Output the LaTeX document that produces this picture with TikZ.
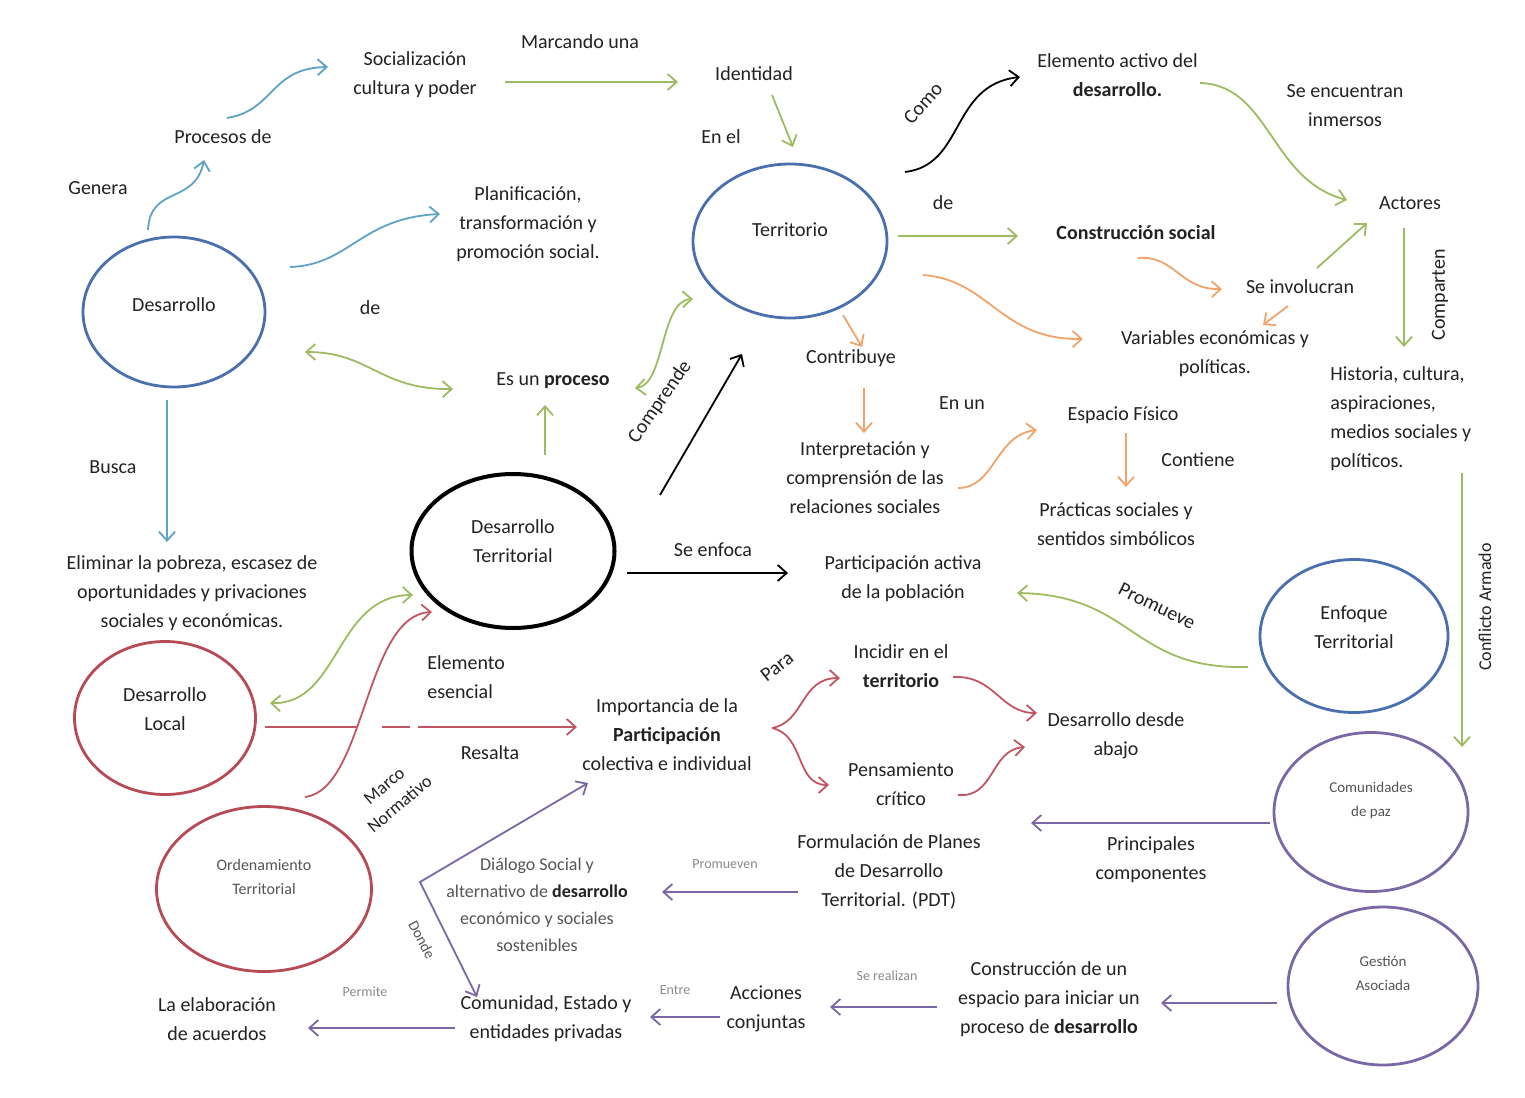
\documentclass[tikz,border=0pt]{standalone}
\usepackage{fontspec}
\setmainfont{Carlito}
\usetikzlibrary{arrows.meta,shapes.geometric}
\definecolor{txt}{HTML}{222222}
\definecolor{greytxt}{HTML}{555555}
\definecolor{faint}{HTML}{8A8A8A}
\definecolor{blueE}{HTML}{4A6FAE}
\definecolor{tealA}{HTML}{5FA3C4}
\definecolor{greenA}{HTML}{9DBB61}
\definecolor{orangeA}{HTML}{F0A46C}
\definecolor{redA}{HTML}{C25563}
\definecolor{redE}{HTML}{B84A55}
\definecolor{purpleA}{HTML}{7A68A6}
\begin{document}
\begin{tikzpicture}[x=0.5pt,y=-0.5pt,
  every node/.style={inner sep=1pt, text=txt},
  t/.style={font=\fontsize{10}{14.5}\selectfont, align=center},
  ell/.style={ellipse, inner sep=0pt, line width=1.4pt},
  lbl/.style={font=\fontsize{10}{14.5}\selectfont, align=center},
  arr/.style={line width=0.9pt, -{Straight Barb[length=4.5pt,width=8pt]}},
  darr/.style={line width=0.9pt, {Straight Barb[length=4.5pt,width=8pt]}-{Straight Barb[length=4.5pt,width=8pt]}},
  tiny/.style={font=\fontsize{7}{8}\selectfont, text=faint},
]
\path[use as bounding box, fill=white] (0,0) rectangle (1525,1097);

% ---------- ellipses ----------
\node[ell, draw=blueE, minimum width=91pt, minimum height=75pt,
  label={[lbl,yshift=3.5pt]center:Desarrollo}] (des) at (174,312) {};
\node[ell, draw=blueE, minimum width=97pt, minimum height=77pt,
  label={[lbl,yshift=5.5pt]center:Territorio}] (ter) at (790,241) {};
\node[ell, draw=black, line width=2pt, minimum width=101.5pt, minimum height=77pt,
  label={[lbl,yshift=5pt]center:Desarrollo\\Territorial}] (dt) at (513,551) {};
\node[ell, draw=redE, minimum width=90.5pt, minimum height=76.5pt,
  label={[lbl,yshift=4.5pt]center:Desarrollo\\Local}] (dl) at (165,718) {};
\node[ell, draw=redE, minimum width=107.5pt, minimum height=82.5pt,
  label={[align=center,font=\fontsize{8}{12}\selectfont,text=greytxt,yshift=6pt]center:Ordenamiento\\Territorial}] (ot) at (264,889) {};
\node[ell, draw=blueE, minimum width=94pt, minimum height=76.5pt,
  label={[lbl,yshift=4.5pt]center:Enfoque\\Territorial}] (et) at (1354,636) {};
\node[ell, draw=purpleA, minimum width=97pt, minimum height=79.5pt,
  label={[align=center,font=\fontsize{7.5}{12}\selectfont,text=greytxt,yshift=6pt]center:Comunidades\\de paz}] (cp) at (1371,812) {};
\node[ell, draw=purpleA, minimum width=95pt, minimum height=79pt,
  label={[align=center,font=\fontsize{7.5}{12}\selectfont,text=greytxt,yshift=6.5pt]center:Gestión\\Asociada}] (ga) at (1383,986) {};

% ---------- text nodes ----------
\node[t] (soc) at (415,74.5) {Socialización\\cultura y poder};
\node[t] (marc) at (580,42) {Marcando una};
\node[t] (ide) at (754,74) {Identidad};
\node[t] (proc) at (223,137) {Procesos de};
\node[t] (gen) at (98,188) {Genera};
\node[t] (plan) at (528,224) {Planificación,\\transformación y\\promoción social.};
\node[t] (enel) at (721,137) {En el};
\node[t, rotate=48] (como) at (923,103) {Como};
\node[t] (elem) at (1117.5,75) {Elemento activo del\\{\bfseries desarrollo.}};
\node[t] (seenc) at (1345,106) {Se encuentran\\inmersos};
\node[t] (deA) at (943,203) {de};
\node[t, font=\bfseries\fontsize{10}{14.5}\selectfont] (cons) at (1136,233) {Construcción social};
\node[t] (act) at (1410,203) {Actores};
\node[t, rotate=90] (comp) at (1440,295) {Comparten};
\node[t] (inv) at (1300,287) {Se involucran};
\node[t] (var) at (1215,354) {Variables económicas y\\políticas.};
\node[t, align=left, anchor=west] (hist) at (1328,419) {Historia, cultura,\\aspiraciones,\\medios sociales y\\políticos.};
\node[t] (deB) at (370,308) {de};
\node[t] (proceso) at (553,381) {Es un {\bfseries proceso}};
\node[t, rotate=55] (compr) at (660,402) {Comprende};
\node[t] (contr) at (851,358) {Contribuye};
\node[t] (enun) at (962,403) {En un};
\node[t] (interp) at (865,478) {Interpretación y\\comprensión de las\\relaciones sociales};
\node[t] (esp) at (1123,415) {Espacio Físico};
\node[t] (cont) at (1198,460) {Contiene};
\node[t] (prac) at (1116,524) {Prácticas sociales y\\sentidos simbólicos};
\node[t] (busca) at (113,467) {Busca};
\node[t] (elim) at (192,593) {Eliminar la pobreza, escasez de\\oportunidades y privaciones\\sociales y económicas.};
\node[t] (seenf) at (713,550) {Se enfoca};
\node[t] (part) at (903,579) {Participación activa\\de la población};
\node[t, rotate=-26] (prom) at (1157,606) {Promueve};
\node[t, rotate=90, font=\fontsize{9}{11}\selectfont] (confl) at (1485,607) {Conflicto Armado};
\node[t, align=left, anchor=west] (elemesc) at (425,677) {Elemento\\esencial};
\node[t] (resalta) at (490,753) {Resalta};
\node[t, rotate=38] (para) at (777,667) {Para};
\node[t] (inc) at (901,666) {Incidir en el\\{\bfseries territorio}};
\node[t] (imp) at (667,735) {Importancia de la\\{\bfseries Participación}\\colectiva e individual};
\node[t] (abajo) at (1116,736) {Desarrollo desde\\abajo};
\node[t] (pens) at (901,784) {Pensamiento\\crítico};
\node[t, rotate=40, font=\fontsize{9}{12}\selectfont] (marco) at (392,795) {Marco\\Normativo};
\node[t] (form) at (889,872) {Formulación de Planes\\de Desarrollo\\Territorial. (PDT)};
\node[t] (princ) at (1151,860) {Principales\\componentes};
\node[t, font=\fontsize{9}{13.5}\selectfont, text=greytxt] (dial) at (537,905) {Diálogo Social y\\alternativo de {\color{txt}\bfseries desarrollo}\\económico y sociales\\sostenibles};
\node[tiny] (promn) at (725,864) {Promueven};
\node[tiny, rotate=-62, font=\fontsize{7.5}{9}\selectfont, text=greytxt] (donde) at (422,940) {Donde};
\node[t] (cons2) at (1049,999) {Construcción de un\\espacio para iniciar un\\proceso de {\bfseries desarrollo}};
\node[tiny] (serea) at (887,976) {Se realizan};
\node[t] (acc) at (766,1009) {Acciones\\conjuntas};
\node[tiny] (entre) at (675,990) {Entre};
\node[t] (com) at (546,1019) {Comunidad, Estado y\\entidades privadas};
\node[tiny] (perm) at (365,992) {Permite};
\node[t] (acu) at (217,1019) {La elaboración\\de acuerdos};

\coordinate (vtx) at (420,882);

% ---------- connectors ----------
% teal (from Desarrollo)
\draw[arr, tealA] ([shift={(-26,-82)}]des.center) .. controls +(2,-45) and +(-9,45) .. ([shift={(-19,23)}]proc.center);
\draw[arr, tealA] ([shift={(4,-19)}]proc.center) .. controls +(48,-8) and +(-58,1) .. ([shift={(-87,-7.5)}]soc.center);
\draw[arr, tealA] ([shift={(116,-45)}]des.center) .. controls +(60,-2) and +(-80,4) .. ([shift={(-88,-10)}]plan.center);
\draw[arr, tealA] ([shift={(-7,88)}]des.center) -- ([shift={(-25,-51)}]elim.center);

% green
\draw[arr, greenA] ([shift={(90,7.5)}]soc.center) -- ([shift={(-76,8)}]ide.center);
\draw[arr, greenA] ([shift={(18,21)}]ide.center) -- ([shift={(3,-94)}]ter.center);
\draw[arr, greenA] ([shift={(108,-5)}]ter.center) -- ([shift={(-118,3)}]cons.center);
\draw[arr, greenA] ([shift={(82.5,8)}]elem.center) .. controls +(70,2) and +(-77,-20) .. ([shift={(-63,-3)}]act.center);
\draw[arr, greenA] ([shift={(17,-19)}]inv.center) -- ([shift={(-43,20)}]act.center);
\draw[arr, greenA] ([shift={(-6,25)}]act.center) -- ([shift={(76,-72)}]hist.west);
\draw[arr, greenA] ([shift={(134,54)}]hist.west) -- ([shift={(91,-65)}]cp.center);
\draw[darr, greenA] ([shift={(131,40)}]des.center) .. controls +(65,0) and +(-73,1) .. ([shift={(-100,8)}]proceso.center);
\draw[darr, greenA] ([shift={(82,7)}]proceso.center) .. controls +(30,-3) and +(-33,1) .. ([shift={(-97,58)}]ter.center);
\draw[arr, greenA] ([shift={(32,-96)}]dt.center) -- ([shift={(-8,24)}]proceso.center);
\draw[arr, greenA] ([shift={(-106,31)}]et.center) .. controls +(-118,3) and +(118,2) .. ([shift={(114,14)}]part.center);
\draw[darr, greenA] ([shift={(105,-15)}]dl.center) .. controls +(70,2) and +(-78,0) .. ([shift={(-100,44)}]dt.center);

% black
\draw[arr, black] ([shift={(115,-69)}]ter.center) .. controls +(60,-7) and +(-70,8) .. ([shift={(-97.5,2)}]elem.center);
\draw[arr, black] ([shift={(147,-56)}]dt.center) -- ([shift={(-48,113)}]ter.center);
\draw[arr, black] ([shift={(114,22)}]dt.center) -- ([shift={(-115,-6)}]part.center);

% orange
\draw[arr, orangeA] ([shift={(2,25)}]cons.center) .. controls +(37,-3) and +(-42,1) .. ([shift={(-78,2)}]inv.center);
\draw[arr, orangeA] ([shift={(133,34)}]ter.center) .. controls +(67,5) and +(-83,1) .. ([shift={(-132,-15)}]var.center);
\draw[arr, orangeA] ([shift={(-12,19)}]inv.center) -- ([shift={(48,-29)}]var.center);
\draw[arr, orangeA] ([shift={(53,74)}]ter.center) -- ([shift={(11,-11)}]contr.center);
\draw[arr, orangeA] ([shift={(13,30)}]contr.center) -- ([shift={(-1,-45)}]interp.center);
\draw[arr, orangeA] ([shift={(93,10)}]interp.center) .. controls +(37,0) and +(-42,5) .. ([shift={(-86,15)}]esp.center);
\draw[arr, orangeA] ([shift={(3,18)}]esp.center) -- ([shift={(10,-37)}]prac.center);

% red
\draw[arr, redA] ([shift={(41,-92)}]ot.center) .. controls +(60,-7) and +(-67,3) .. ([shift={(-81,61)}]dt.center);
\draw[arr, redA, dash pattern=on 46.5pt off 12pt on 14pt off 4pt on 300pt] ([shift={(100,9)}]dl.center) -- ([shift={(-90,-8)}]imp.center);
\draw[arr, redA] ([shift={(105,-7)}]imp.center) .. controls +(33,-6) and +(-40,0) .. ([shift={(-61,12)}]inc.center);
\draw[arr, redA] ([shift={(105,-7)}]imp.center) .. controls +(33,7) and +(-34,0) .. ([shift={(-72,1)}]pens.center);
\draw[arr, redA] ([shift={(52,11)}]inc.center) .. controls +(42,-2) and +(-37,0) .. ([shift={(-79,-23)}]abajo.center);
\draw[arr, redA] ([shift={(57,11)}]pens.center) .. controls +(37,3) and +(-35,3) .. ([shift={(-91,11)}]abajo.center);

% purple
\draw[arr, purpleA] ([shift={(-101,11)}]cp.center) -- ([shift={(142,-49)}]form.center);
\draw[arr, purpleA] ([shift={(-91,20)}]form.center) -- ([shift={(125,-13)}]dial.center);
\draw[darr, purpleA] ([shift={(-69,-22)}]com.center) -- (vtx) -- ([shift={(-79,48)}]imp.center);
\draw[arr, purpleA] ([shift={(-106,17)}]ga.center) -- ([shift={(112,4)}]cons2.center);
\draw[arr, purpleA] ([shift={(-112,8)}]cons2.center) -- ([shift={(64,-2)}]acc.center);
\draw[arr, purpleA] ([shift={(-46,8)}]acc.center) -- ([shift={(104,-2)}]com.center);
\draw[arr, purpleA] ([shift={(-91,9)}]com.center) -- ([shift={(91,9)}]acu.center);
\end{tikzpicture}
\end{document}
